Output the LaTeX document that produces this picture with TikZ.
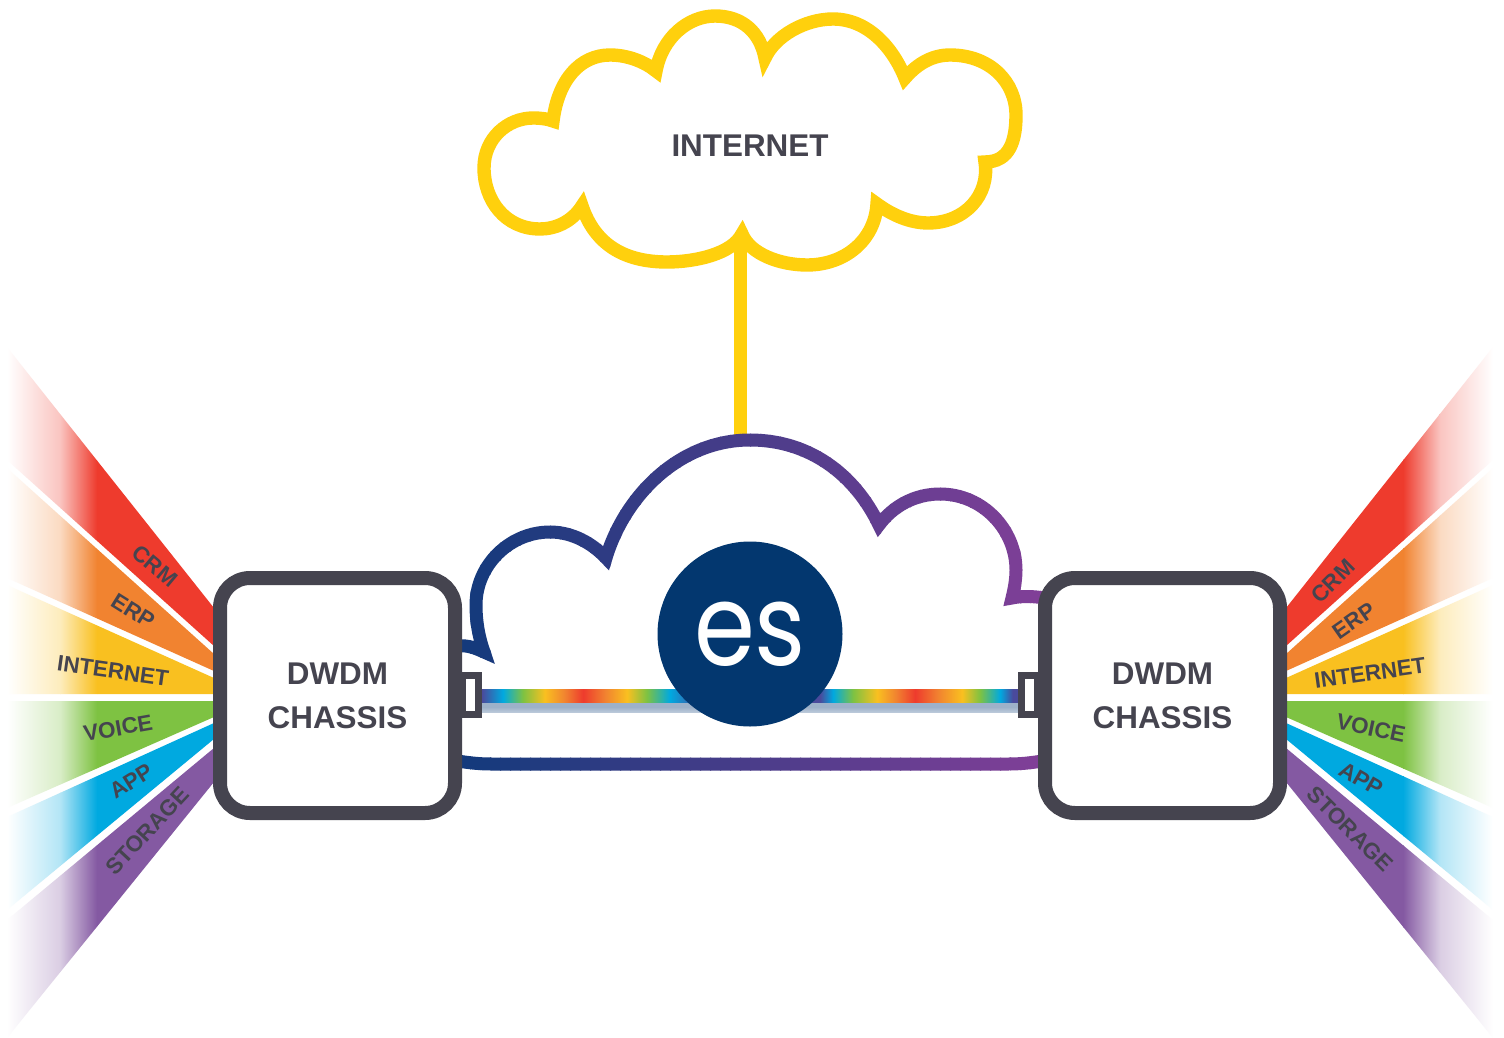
\documentclass[tikz,border=0pt]{standalone}
\usepackage{fontspec}
\usepackage{graphicx}
\setmainfont{Liberation Sans}
\newfontfamily\esfont{Poppins}
\definecolor{slate}{HTML}{45444F}
\definecolor{cloudY}{HTML}{FFD00D}
\definecolor{gradL}{HTML}{143A7C}
\definecolor{gradR}{HTML}{823F98}
\definecolor{esblue}{HTML}{03376F}
\definecolor{cRed}{HTML}{EE3B2D}
\definecolor{cOrange}{HTML}{F18330}
\definecolor{cYellow}{HTML}{F9C020}
\definecolor{cGreen}{HTML}{7EC242}
\definecolor{cCyan}{HTML}{00A9E0}
\definecolor{cPurple}{HTML}{8459A2}
\definecolor{cBlueV}{HTML}{4A4A9C}
\definecolor{band}{HTML}{9DB1C9}
\pgfdeclarehorizontalshading{rainbowL}{100bp}{
 color(0bp)=(cBlueV); color(25bp)=(cBlueV); color(29.8bp)=(cCyan); color(34.4bp)=(cGreen);
 color(39.4bp)=(cYellow); color(44bp)=(cOrange); color(48.2bp)=(cRed); color(53.3bp)=(cOrange);
 color(58.3bp)=(cYellow); color(62.8bp)=(cGreen); color(68.1bp)=(cCyan); color(75bp)=(cBlueV); color(100bp)=(cBlueV)}
\pgfdeclarehorizontalshading{rainbowR}{100bp}{
 color(0bp)=(cBlueV); color(25bp)=(cBlueV); color(29.6bp)=(cBlueV); color(32.6bp)=(cCyan); color(37.2bp)=(cGreen);
 color(42.7bp)=(cYellow); color(47bp)=(cOrange); color(51.4bp)=(cRed); color(56.7bp)=(cOrange);
 color(62.2bp)=(cYellow); color(66.3bp)=(cGreen); color(70.9bp)=(cCyan); color(73.8bp)=(cBlueV); color(100bp)=(cBlueV)}
\tikzset{
 x=0.5pt,y=-0.5pt,
 chassis/.style={draw=slate,fill=white,line width=7pt,rounded corners=15pt,minimum width=117.5pt,minimum height=117.5pt,inner sep=0pt,
   align=center,font=\fontsize{15.7}{22}\selectfont\bfseries,text=slate},
 raylabel/.style={font=\fontsize{11.2}{14}\selectfont\bfseries,text=slate,inner sep=0pt},
 port/.style={draw=slate,fill=white,line width=3.5pt,minimum width=8pt,minimum height=19.5pt,inner sep=0pt},
 cloudY/.style={draw=cloudY,line width=6.7pt,miter limit=10,line join=miter},
 gradstroke/.style={line width=6.5pt,miter limit=10,line join=miter},
}
\newcommand{\ray}[2]{%
 \begin{scope}
  \clip #2 -- cycle;
  \ifnum\raymirror=0
   \shade[left color=white,right color=#1!30!white] (7,300) rectangle (60.5,1038);
   \shade[left color=#1!30!white,right color=#1] (60,300) rectangle (97,1038);
  \else
   \shade[left color=#1!30!white,right color=white] (7,300) rectangle (60.5,1038);
   \shade[left color=#1,right color=#1!30!white] (60,300) rectangle (97,1038);
  \fi
  \fill[#1] (96.5,300) rectangle (214,1038);
 \end{scope}}
\newcommand{\rayset}{%
 \ray{cRed}{(7,347) -- (214,608) -- (214,646) -- (7,460)}
 \ray{cOrange}{(7,468) -- (214,654) -- (214,671) -- (7,578)}
 \ray{cYellow}{(7,585) -- (214,678) -- (214,694) -- (7,694)}
 \ray{cGreen}{(7,701) -- (214,701) -- (214,717) -- (7,808)}
 \ray{cCyan}{(7,817) -- (214,723) -- (214,739) -- (7,910)}
 \ray{cPurple}{(7,920) -- (214,748) -- (214,782) -- (7,1038)}}
\newcommand{\gradientdraw}[1]{%
 \foreach \i in {0,...,58}{%
  \pgfmathsetmacro{\xa}{460+\i*10}%
  \pgfmathsetmacro{\xb}{471+\i*10}%
  \pgfmathtruncatemacro{\pc}{\i*100/58}%
  \begin{scope}
   \clip (\xa,400) rectangle (\xb,800);
   \draw[gradstroke,draw=gradR!\pc!gradL] #1;
  \end{scope}}}
\begin{document}
\begin{tikzpicture}
\useasboundingbox (0,0) rectangle (1504,1038);
\fill[white] (0,0) rectangle (1504,1038);
\def\raymirror{0}
\rayset
\begin{scope}[shift={(1500,0)},xscale=-1]
\def\raymirror{1}
\rayset
\end{scope}
% internet cloud
\coordinate (inetTail) at (740,240);
\coordinate (esTop) at (740,440);
\draw[draw=cloudY,line width=6.5pt] (inetTail) -- (esTop);
\draw[cloudY] (742,234) .. controls (732,254) and (695,262) .. (667,262)
 .. controls (625,262) and (595,245) .. (582,206)
 .. controls (572,222) and (555,229) .. (540,229)
 .. controls (505,229) and (484,200) .. (484,168)
 .. controls (484,138) and (508,118) .. (533,118)
 .. controls (541,118) and (548,119) .. (553,121)
 .. controls (558,80) and (580,55) .. (610,55)
 .. controls (628,55) and (645,62) .. (656,71)
 .. controls (662,38) and (688,16) .. (715,16)
 .. controls (742,16) and (760,32) .. (765,58)
 .. controls (775,36) and (805,19) .. (833,19)
 .. controls (868,19) and (893,48) .. (905,78)
 .. controls (918,63) and (933,55) .. (950,55)
 .. controls (990,55) and (1016,82) .. (1016,115)
 .. controls (1016,140) and (1010,162) .. (985,162)
 .. controls (990,195) and (965,223) .. (928,223)
 .. controls (910,223) and (892,215) .. (877,204)
 .. controls (875,240) and (845,265) .. (807,265)
 .. controls (780,265) and (750,254) .. cycle;
\node[font=\fontsize{15.7}{20}\selectfont\bfseries,text=slate,inner sep=0pt] (inetLabel) at (750,146) {INTERNET};
% ES cloud
\gradientdraw{(458,646) .. controls (468,645) and (475,648) .. (484,652)
 .. controls (479,638) and (476,622) .. (476,605)
 .. controls (476,565) and (510,532) .. (550,532)
 .. controls (572,532) and (592,543) .. (606,558)
 .. controls (625,495) and (680,440) .. (750,440)
 .. controls (810,440) and (855,475) .. (879,525)
 .. controls (893,506) and (915,494) .. (940,494)
 .. controls (983,494) and (1016,530) .. (1016,570)
 .. controls (1016,580) and (1014,590) .. (1012,598)
 .. controls (1022,596) and (1032,596) .. (1044,598)}
% lower link
\gradientdraw{(458,761) .. controls (470,763) and (480,764) .. (492,764) -- (1008,764) .. controls (1020,764) and (1030,763) .. (1042,761)}
% bars
\shade[top color=band,bottom color=band!70!white,middle color=band] (482,702) rectangle (1018,712);
\shade[shading=rainbowL] (482,689) rectangle (700,702);
\shade[shading=rainbowR] (800,689) rectangle (1018,702);
% ports
\node[port] (portL) at (470.5,695) {};
\node[port] (portR) at (1029.5,695) {};
% chassis
\node[chassis] (boxL) at (337.5,695.5) {DWDM\\CHASSIS};
\node[chassis] (boxR) at (1162.5,695.5) {DWDM\\CHASSIS};
% es disc
\node[circle,fill=esblue,minimum size=92.5pt,inner sep=0pt,text=white,font=\esfont\fontsize{57}{60}\selectfont] (es) at (750,634) {\scalebox{0.86}[1]{es}};
% labels left
\node[raylabel,rotate=-40] (l1) at (155,566) {CRM};
\node[raylabel,rotate=-32] (l2) at (133,611) {ERP};
\node[raylabel,rotate=-8] (l3) at (113,671) {INTERNET};
\node[raylabel,rotate=10] (l4) at (118,728) {VOICE};
\node[raylabel,rotate=32] (l5) at (131,781) {APP};
\node[raylabel,rotate=47] (l6) at (147,831) {STORAGE};
% labels right
\node[raylabel,rotate=45] (r1) at (1333,581) {CRM};
\node[raylabel,rotate=35] (r2) at (1354,621) {ERP};
\node[raylabel,rotate=8] (r3) at (1370,673) {INTERNET};
\node[raylabel,rotate=-12] (r4) at (1371,728) {VOICE};
\node[raylabel,rotate=-30] (r5) at (1361,779) {APP};
\node[raylabel,rotate=-45] (r6) at (1350,829) {STORAGE};
\end{tikzpicture}
\end{document}
